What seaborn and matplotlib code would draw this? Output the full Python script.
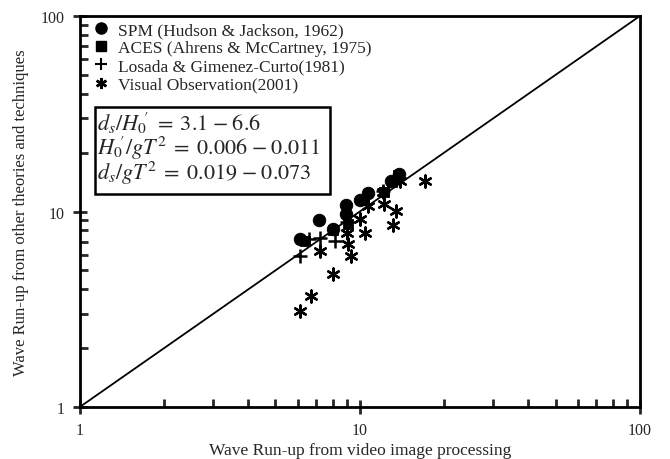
import numpy as np
import pandas as pd
import seaborn as sns
import matplotlib
matplotlib.use("Agg")
import matplotlib.pyplot as plt
from matplotlib.lines import Line2D
from matplotlib.patches import Rectangle
from matplotlib.ticker import LogLocator, FixedLocator, FixedFormatter, NullFormatter

# ---- data ----
spm_x = [6.1, 7.15, 8.0, 8.95, 8.9, 10.0, 10.7, 12.9, 13.8]
spm_y = [7.2, 9.1, 8.1, 10.8, 9.7, 11.5, 12.5, 14.4, 15.6]

aces_x = [6.35, 8.05, 9.1, 10.2, 12.2, 13.0, 13.7]
aces_y = [7.1, 8.0, 8.6, 11.4, 12.6, 14.2, 15.4]

los_x = [6.1, 6.6, 7.2, 8.15, 9.0, 12.1, 13.3]
los_y = [5.9, 7.2, 7.3, 7.1, 8.8, 12.8, 14.8]

vis_x = [6.1, 6.7, 7.2, 8.0, 9.0, 9.1, 9.3, 10.0, 10.4, 10.7, 12.1, 12.2, 13.1, 13.5, 13.9, 17.1]
vis_y = [3.1, 3.7, 6.3, 4.8, 7.8, 6.8, 5.95, 9.2, 7.8, 10.7, 12.6, 10.9, 8.5, 10.1, 14.4, 14.4]

legend_labels = ["SPM (Hudson & Jackson, 1962)",
                 "ACES (Ahrens & McCartney, 1975)",
                 "Losada & Gimenez-Curto(1981)",
                 "Visual Observation(2001)"]
tick_vals = [1, 10, 100]
tick_text = ["1", "10", "100"]
box_lines = [r"$d_s/H_{0}\!{}^{\prime}\;=\;3.1\;\mathrm{-}\;6.6$",
             r"$H_{0}\!{}^{\prime}/gT^2\;=\;0.006\;\mathrm{-}\;0.011$",
             r"$d_s/gT^2\;=\;0.019\;\mathrm{-}\;0.073$"]

sns.set_style("ticks")
plt.rcParams['font.family'] = ['Liberation Serif', 'DejaVu Serif']
plt.rcParams['mathtext.fontset'] = 'stix'

fig = plt.figure(figsize=(6.7, 4.6), dpi=100)
ax = fig.add_axes([0.119, 0.113, 0.836, 0.850])

ax.set_xscale('log')
ax.set_yscale('log')

# 1:1 line
ax.plot([1, 100], [1, 100], color='black', lw=1.3, zorder=1)

df_aces = pd.DataFrame({'x': aces_x, 'y': aces_y})
df_spm = pd.DataFrame({'x': spm_x, 'y': spm_y})
df_los = pd.DataFrame({'x': los_x, 'y': los_y})
df_vis = pd.DataFrame({'x': vis_x, 'y': vis_y})

sns.scatterplot(data=df_aces, x='x', y='y', marker='s', s=55, color='black',
                edgecolor='black', ax=ax, zorder=2, legend=False)
sns.scatterplot(data=df_spm, x='x', y='y', marker='o', s=80, color='black',
                edgecolor='black', ax=ax, zorder=3, legend=False)
sns.scatterplot(data=df_los, x='x', y='y', marker='+', s=90, color='black',
                linewidth=1.8, ax=ax, zorder=4, legend=False)
sns.scatterplot(data=df_vis, x='x', y='y', marker=(6, 2, 0), s=75, color='black',
                linewidth=1.7, ax=ax, zorder=5, legend=False)

ax.set_xlim(1, 100)
ax.set_ylim(1, 100)

for sp in ax.spines.values():
    sp.set_linewidth(2.0)
    sp.set_color('black')

for axis in (ax.xaxis, ax.yaxis):
    axis.set_major_locator(FixedLocator(tick_vals))
    axis.set_major_formatter(FixedFormatter(tick_text))
    axis.set_minor_locator(LogLocator(base=10, subs=np.arange(2, 10)))
    axis.set_minor_formatter(NullFormatter())

ax.tick_params(which='major', direction='inout', length=10, width=2, labelsize=11.5, pad=6)
ax.tick_params(which='minor', direction='in', length=6, width=2)

ax.set_xlabel("Wave Run-up from video image processing", fontsize=12.5, labelpad=3)
ax.set_ylabel("Wave Run-up from other theories and techniques", fontsize=12, labelpad=8)

handles = [
    Line2D([], [], ls='none', marker='o', color='black', markersize=8),
    Line2D([], [], ls='none', marker='s', color='black', markersize=7.5),
    Line2D([], [], ls='none', marker='+', color='black', markersize=8, markeredgewidth=1.5),
    Line2D([], [], ls='none', marker=(6, 2, 0), color='black', markersize=8, markeredgewidth=1.8),
]
leg = ax.legend(handles, legend_labels, loc='upper left', frameon=False,
                fontsize=12.5, handlelength=0.8, handletextpad=0.6,
                labelspacing=0.12, borderaxespad=0.0, borderpad=0.0,
                bbox_to_anchor=(0.025, 0.985))

# parameter box
ax.add_patch(Rectangle((0.027, 0.545), 0.419, 0.223, transform=ax.transAxes,
                       facecolor='white', edgecolor='black', linewidth=1.8, zorder=6))
for txt, yy in zip(box_lines, [0.727, 0.664, 0.601]):
    ax.text(0.030, yy, txt, transform=ax.transAxes, fontsize=16,
            va='center', ha='left', zorder=7)

fig.savefig("out.png", dpi=100)
